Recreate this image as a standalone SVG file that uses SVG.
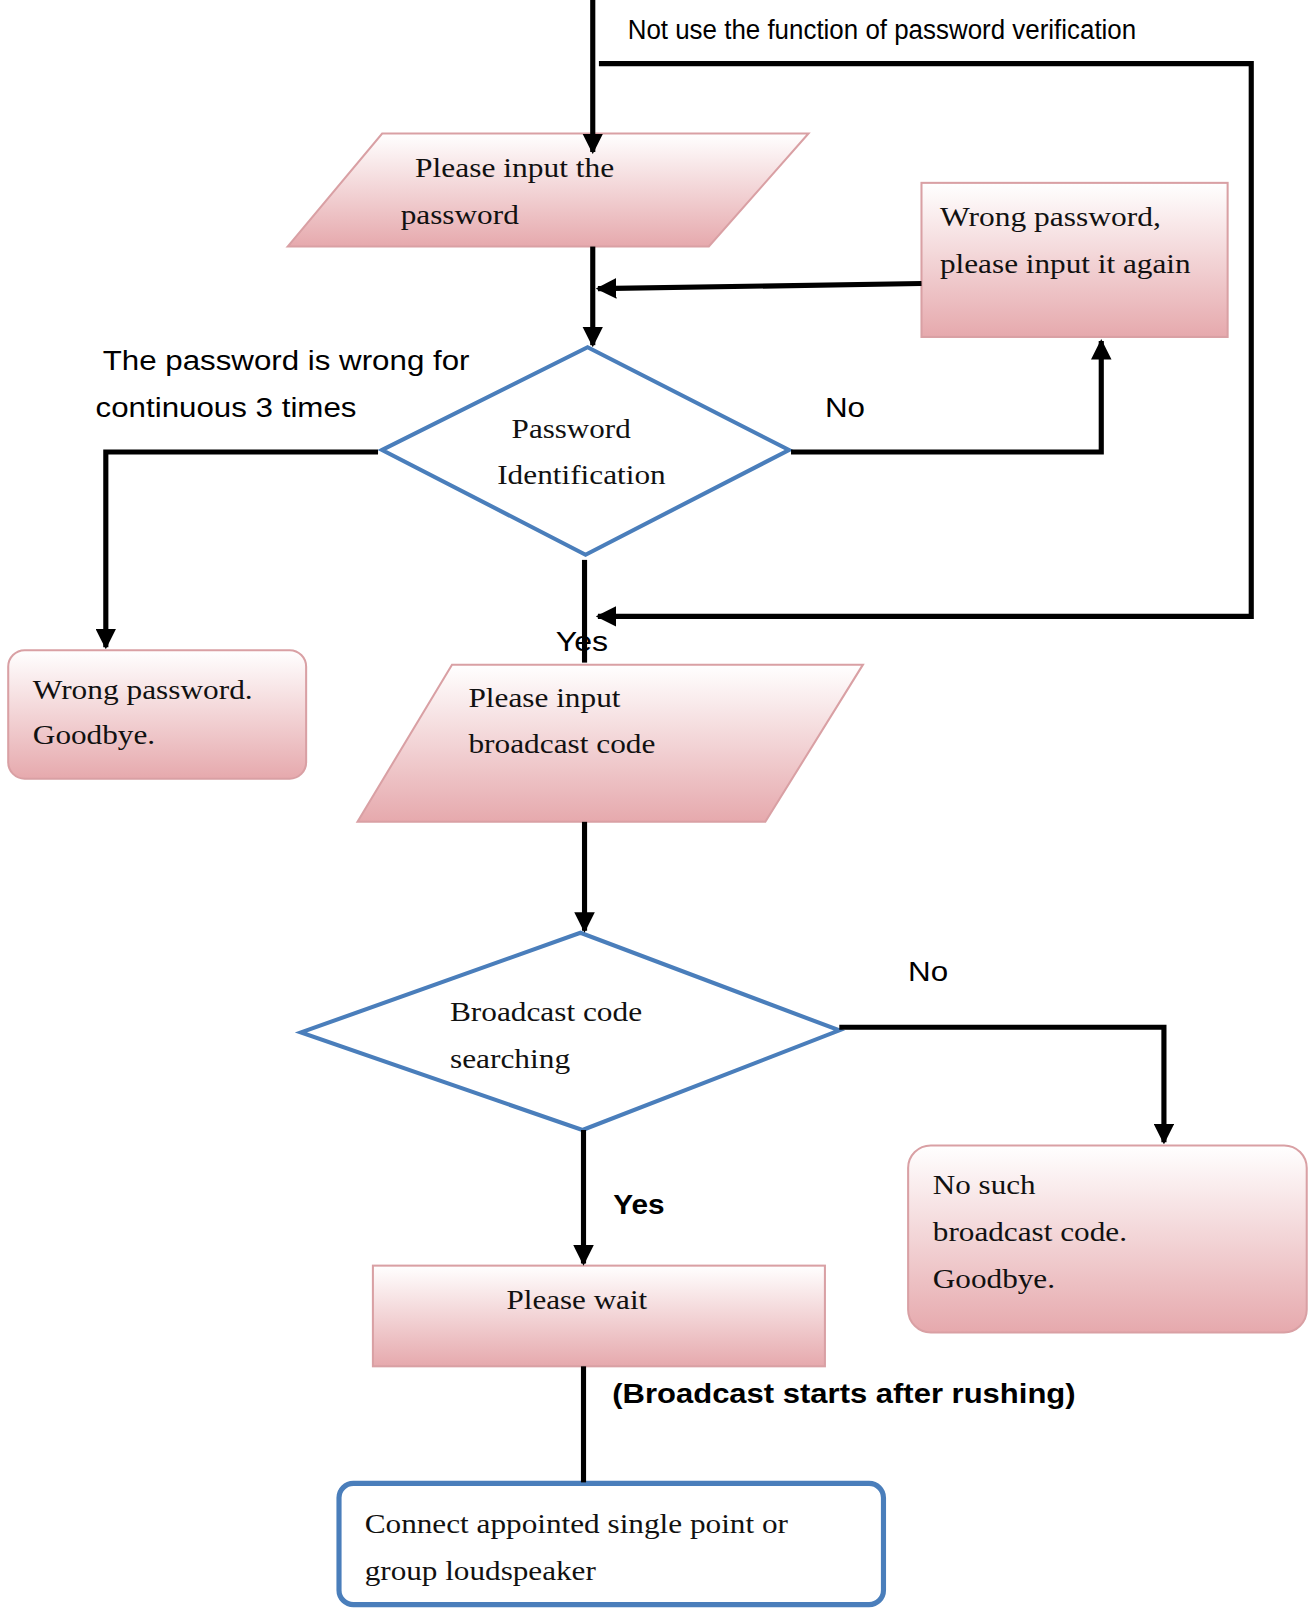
<svg xmlns="http://www.w3.org/2000/svg" width="1315" height="1615" viewBox="0 0 1315 1615">
<defs>
<linearGradient id="pk" x1="0" y1="0" x2="0" y2="1"><stop offset="0" stop-color="#ffffff"/><stop offset="1" stop-color="#e6a9ad"/></linearGradient>
<marker id="ar" viewBox="0 0 10 10" refX="9" refY="5" markerWidth="4" markerHeight="4" orient="auto"><path d="M0,0L10,5L0,10z" fill="#000"/></marker>
<style>
.sh{fill:url(#pk);stroke:#d9a0a4;stroke-width:2}
.dm{fill:#fff;stroke:#4a7ebb;stroke-width:4}
.sf{font-family:"Liberation Serif",serif;font-size:27px;fill:#111}
.ss{font-family:"Liberation Sans",sans-serif;font-size:27px;fill:#000}
.c{fill:none;stroke:#000;stroke-width:5}
</style>
</defs>
<rect width="1315" height="1615" fill="#fff"/>
<g transform="scale(1.0273)" lengthAdjust="spacingAndGlyphs">
<g id="p1"><polygon class="sh" points="280,240 372,130 787,130 690,240"/><text class="sf" x="404" y="172" textLength="194" lengthAdjust="spacingAndGlyphs">Please input the</text><text class="sf" x="390" y="218" textLength="115" lengthAdjust="spacingAndGlyphs">password</text></g>
<g id="wp"><rect class="sh" x="897" y="178" width="298" height="150"/><text class="sf" x="915" y="220" textLength="215" lengthAdjust="spacingAndGlyphs">Wrong password,</text><text class="sf" x="915" y="266" textLength="244" lengthAdjust="spacingAndGlyphs">please input it again</text></g>
<g id="d1"><polygon class="dm" points="372,438 572,338 768,438 570,540"/><text class="sf" x="498" y="426" textLength="116" lengthAdjust="spacingAndGlyphs">Password</text><text class="sf" x="484" y="471" textLength="164" lengthAdjust="spacingAndGlyphs">Identification</text></g>
<g id="bye1"><rect class="sh" x="8" y="633" width="290" height="125" rx="16"/><text class="sf" x="32" y="680" textLength="214" lengthAdjust="spacingAndGlyphs">Wrong password.</text><text class="sf" x="32" y="724" textLength="119" lengthAdjust="spacingAndGlyphs">Goodbye.</text></g>
<g id="p2"><polygon class="sh" points="348,800 440,647 840,647 745,800"/><text class="sf" x="456" y="688" textLength="148" lengthAdjust="spacingAndGlyphs">Please input</text><text class="sf" x="456" y="733" textLength="182" lengthAdjust="spacingAndGlyphs">broadcast code</text></g>
<g id="d2"><polygon class="dm" points="293,1005 565,908 817,1003 567,1100"/><text class="sf" x="438" y="994" textLength="187" lengthAdjust="spacingAndGlyphs">Broadcast code</text><text class="sf" x="438" y="1040" textLength="117" lengthAdjust="spacingAndGlyphs">searching</text></g>
<g id="bye2"><rect class="sh" x="884" y="1115" width="388" height="182" rx="22"/><text class="sf" x="908" y="1162" textLength="100" lengthAdjust="spacingAndGlyphs">No such</text><text class="sf" x="908" y="1208" textLength="189" lengthAdjust="spacingAndGlyphs">broadcast code.</text><text class="sf" x="908" y="1254" textLength="119" lengthAdjust="spacingAndGlyphs">Goodbye.</text></g>
<g id="wait"><rect class="sh" x="363" y="1232" width="440" height="98"/><text class="sf" x="493" y="1274" textLength="137" lengthAdjust="spacingAndGlyphs">Please wait</text></g>
<g id="conn"><rect x="330" y="1444" width="530" height="118" rx="14" fill="#fff" stroke="#4a7ebb" stroke-width="5"/><text class="sf" x="355" y="1492" textLength="412" lengthAdjust="spacingAndGlyphs">Connect appointed single point or</text><text class="sf" x="355" y="1538" textLength="225" lengthAdjust="spacingAndGlyphs">group loudspeaker</text></g>
<g id="connectors">
<path class="c" d="M577,0V148" marker-end="url(#ar)"/>
<path class="c" d="M583,62H1218V600H582" marker-end="url(#ar)"/>
<path class="c" d="M577,240V336" marker-end="url(#ar)"/>
<path class="c" d="M897,276L582,281" marker-end="url(#ar)"/>
<path class="c" d="M770,440H1072V332" marker-end="url(#ar)"/>
<path class="c" d="M368,440H103V630" marker-end="url(#ar)"/>
<path class="c" d="M569,545V645"/>
<path class="c" d="M569,800V906" marker-end="url(#ar)"/>
<path class="c" d="M817,1000H1133V1112" marker-end="url(#ar)"/>
<path class="c" d="M568,1100V1230" marker-end="url(#ar)"/>
<path class="c" d="M568,1330V1443"/>
</g>
<g id="labels">
<text class="ss" x="611" y="38" font-size="22" textLength="495" lengthAdjust="spacingAndGlyphs">Not use the function of password verification</text>
<text class="ss" x="100" y="360" textLength="357" lengthAdjust="spacingAndGlyphs">The password is wrong for</text>
<text class="ss" x="93" y="406" textLength="254" lengthAdjust="spacingAndGlyphs">continuous 3 times</text>
<text class="ss" x="803" y="406" textLength="39" lengthAdjust="spacingAndGlyphs">No</text>
<text class="ss" x="541" y="634" textLength="51" lengthAdjust="spacingAndGlyphs">Yes</text>
<text class="ss" x="884" y="955" textLength="39" lengthAdjust="spacingAndGlyphs">No</text>
<text class="ss" x="597" y="1182" font-weight="bold" textLength="50" lengthAdjust="spacingAndGlyphs">Yes</text>
<text class="ss" x="596" y="1366" font-weight="bold" textLength="451" lengthAdjust="spacingAndGlyphs">(Broadcast starts after rushing)</text>
</g>
</g>
</svg>
